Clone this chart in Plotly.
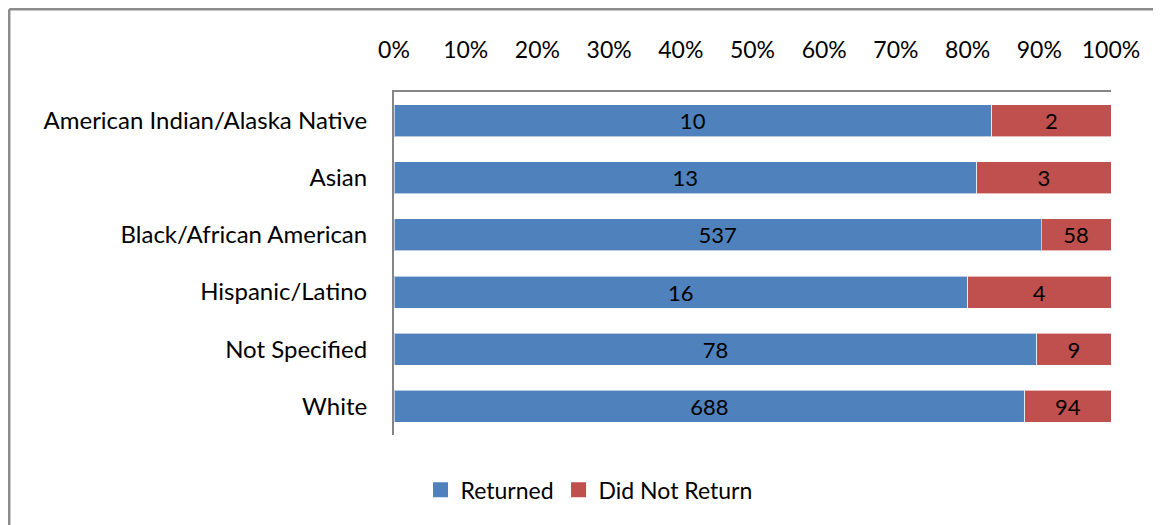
import plotly.graph_objects as go

categories = ["American Indian/Alaska Native", "Asian", "Black/African American",
              "Hispanic/Latino", "Not Specified", "White"]
returned = [10, 13, 537, 16, 78, 688]
did_not_return = [2, 3, 58, 4, 9, 94]
tick_vals = [0, 10, 20, 30, 40, 50, 60, 70, 80, 90, 100]
tick_text = [f"{v}%" for v in tick_vals]

FONT = "Lato, Carlito, Calibri, sans-serif"
BLUE = "#4F81BD"
RED = "#C0504D"

fig = go.Figure()
fig.add_trace(go.Bar(
    y=categories, x=returned, name="Returned", orientation="h", showlegend=False,
    marker=dict(color=BLUE, line=dict(color="rgba(255,255,255,0.6)", width=1)),
    text=[str(v) for v in returned], textposition="inside", insidetextanchor="middle",
    textangle=0, constraintext="none",
    textfont=dict(color="black", size=22, family=FONT), width=0.56,
))
fig.add_trace(go.Bar(
    y=categories, x=did_not_return, name="Did Not Return", orientation="h", showlegend=False,
    marker=dict(color=RED, line=dict(color="rgba(255,255,255,0.6)", width=1)),
    text=[str(v) for v in did_not_return], textposition="inside", insidetextanchor="middle",
    textangle=0, constraintext="none",
    textfont=dict(color="black", size=22, family=FONT), width=0.56,
))
# legend entries with larger square swatches
for nm, col in [("Returned", BLUE), ("Did Not Return", RED)]:
    fig.add_trace(go.Scatter(x=[None], y=[None], mode="markers", name=nm,
                             marker=dict(symbol="square", size=15, color=col)))

# page body has an 8px margin, so the figure is sized to fit inside the window
W, H = 1153, 517
L, R, T, B = 386, 50, 84, 90
pw, ph = W - L - R, H - T - B

bx = (1.2 - L) / pw
by = 1 + (T - 1.2) / ph
fig.add_shape(type="line", xref="paper", yref="paper", x0=bx, x1=bx, y0=by, y1=-0.5,
              line=dict(color="#8c8c8c", width=2.5))
fig.add_shape(type="line", xref="paper", yref="paper", x0=bx, x1=1.2, y0=by, y1=by,
              line=dict(color="#8c8c8c", width=2.5))

fig.update_layout(
    width=W, height=H,
    barmode="stack", barnorm="percent",
    margin=dict(l=L, r=R, t=T, b=B),
    paper_bgcolor="white", plot_bgcolor="white",
    font=dict(family=FONT, size=24, color="black"),
    xaxis=dict(side="top", range=[0, 100], tickvals=tick_vals, ticktext=tick_text,
               showgrid=False, zeroline=False, showline=True, linecolor="#868686",
               linewidth=2, ticks="", ticklabelstandoff=23,
               tickfont=dict(size=23, family=FONT, color="black")),
    yaxis=dict(autorange="reversed", showgrid=False, zeroline=False, showline=True,
               linecolor="#868686", linewidth=2, ticks="", ticklabelstandoff=20,
               tickfont=dict(size=24, family=FONT, color="black")),
    legend=dict(orientation="h", x=0.272, xanchor="center", y=-0.16, yanchor="middle",
                font=dict(size=23, family=FONT, color="black"), traceorder="normal",
                itemwidth=30),
    showlegend=True,
)

fig.write_html("out.html")
